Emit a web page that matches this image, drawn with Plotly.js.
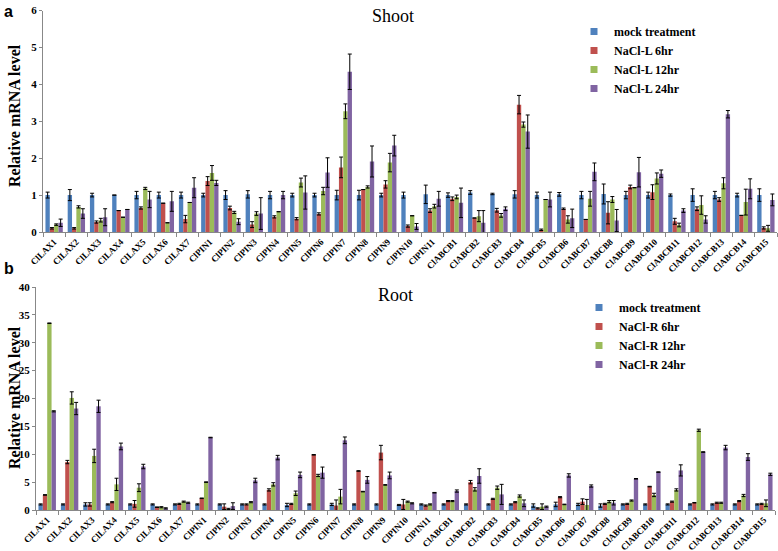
<!DOCTYPE html>
<html>
<head>
<meta charset="utf-8">
<script src="https://cdn.plot.ly/plotly-3.0.1.min.js"></script>
<style>html,body{margin:0;padding:0;background:#fff;}#chart{width:778px;height:551px;}</style>
</head>
<body>
<div id="chart"></div>
<script>
const categories = ["ClLAX1","ClLAX2","ClLAX3","ClLAX4","ClLAX5","ClLAX6","ClLAX7",
  "ClPIN1","ClPIN2","ClPIN3","ClPIN4","ClPIN5","ClPIN6","ClPIN7","ClPIN8","ClPIN9","ClPIN10","ClPIN11",
  "ClABCB1","ClABCB2","ClABCB3","ClABCB4","ClABCB5","ClABCB6","ClABCB7","ClABCB8","ClABCB9","ClABCB10",
  "ClABCB11","ClABCB12","ClABCB13","ClABCB14","ClABCB15"];

const shootNames = ["mock treatment","NaCl-L 6hr","NaCl-L 12hr","NaCl-L 24hr"];
const rootNames = ["mock treatment","NaCl-R 6hr","NaCl-R 12hr","NaCl-R 24hr"];
const colors = ["#4F81BD","#C0504D","#9BBB59","#8064A2"];

const shootMock = [1.0,1.0,1.0,1.0,1.0,1.0,1.0, 1.0,1.0,1.02,1.0,1.0,1.0,1.0,1.0,1.0,1.0,1.02, 1.0,1.07,1.03,1.02,1.0,1.02,1.0,1.03,1.0,1.0,1.0,1.0,1.0,1.0,1.0];
const shootMockErr = [0.08,0.15,0.05,0.0,0.1,0.08,0.08, 0.05,0.12,0.1,0.1,0.05,0.05,0.13,0.13,0.05,0.08,0.25, 0.06,0.05,0.02,0.1,0.08,0.05,0.1,0.27,0.1,0.08,0.03,0.17,0.1,0.05,0.17];
const shoot6 = [0.1,0.1,0.27,0.58,0.65,0.78,0.35, 1.38,0.65,0.2,0.41,0.36,0.49,1.75,1.15,1.29,0.16,0.58, 0.9,0.38,0.59,3.45,0.06,0.63,0.34,0.52,1.22,1.08,0.29,0.63,0.88,0.45,0.11];
const shoot6Err = [0.02,0.02,0.03,0.0,0.03,0.0,0.1, 0.12,0.05,0.08,0.03,0.03,0.03,0.28,0.0,0.1,0.03,0.05, 0.05,0.0,0.05,0.25,0.02,0.02,0.0,0.3,0.05,0.2,0.08,0.05,0.05,0.0,0.03];
const shoot12 = [0.2,0.68,0.32,0.4,1.18,0.25,0.8, 1.6,0.53,0.5,0.55,1.34,1.11,3.27,1.22,1.88,0.44,0.7, 0.95,0.43,0.45,2.91,0.88,0.34,0.9,0.88,1.2,1.45,0.19,0.73,1.32,0.81,0.1];
const shoot12Err = [0.02,0.03,0.05,0.0,0.03,0.0,0.0, 0.2,0.03,0.05,0.0,0.12,0.1,0.2,0.03,0.25,0.0,0.05, 0.05,0.15,0.05,0.07,0.0,0.1,0.2,0.08,0.0,0.15,0.05,0.25,0.15,0.35,0.08];
const shoot24 = [0.25,0.5,0.4,0.61,0.88,0.83,1.2, 1.33,0.28,0.5,1.0,1.07,1.61,4.34,1.91,2.34,0.15,0.9, 0.79,0.25,0.63,2.72,0.88,0.37,1.63,0.31,1.62,1.58,0.58,0.34,3.19,1.17,0.87];
const shoot24Err = [0.1,0.13,0.23,0.0,0.22,0.27,0.27, 0.07,0.08,0.43,0.1,0.45,0.4,0.48,0.42,0.28,0.08,0.2, 0.4,0.33,0.05,0.45,0.2,0.25,0.24,0.3,0.4,0.1,0.05,0.1,0.1,0.27,0.16];

const rootMock = [1,1,1,1,1,1,1, 1,1,1,1,0.9,1,1,1,1,0.9,1, 1,1,1,1,0.8,1,1,0.8,1,1,1,1,1,1,1];
const rootMockErr = [0.1,0.1,0.3,0.1,0.1,0.1,0.1, 0.1,0.1,0.1,0.1,0.3,0.1,0.2,0.1,0.1,0.1,0.1, 0.1,0.1,0.1,0.1,0.3,0.4,0.2,0.3,0.1,0.1,0.1,0.1,0.1,0.1,0.1];
const root6 = [2.7,8.6,1.0,1.4,1.1,0.5,1.1, 2.1,0.6,1.0,3.6,1.1,9.9,0.8,7.0,10.3,1.0,0.8, 1.6,5.0,2.0,1.4,0.3,2.3,1.5,1.1,1.1,4.2,1.5,1.3,1.3,1.6,1.1];
const root6Err = [0.05,0.3,0.3,0.1,0.6,0.05,0.1, 0.05,0.5,0.1,0.2,0.1,0.05,1.0,0.05,1.3,0.9,0.1, 0.1,0.3,0.1,0.1,0.1,0.1,0.5,0.1,0.1,0.05,0.1,0.05,0.1,0.1,0.1];
const root12 = [33.5,20.1,9.7,4.6,4.0,0.5,1.5, 5.0,0.2,1.4,4.6,3.0,6.2,2.4,3.3,4.5,1.5,1.0, 1.6,3.7,4.0,2.5,0.6,1.0,0.9,1.5,1.7,2.7,3.6,14.3,1.3,2.6,1.2];
const root12Err = [0.05,1.1,1.2,1.1,0.7,0.1,0.1, 0.05,0.1,0.1,0.3,0.4,0.2,1.3,0.05,0.05,0.1,0.1, 0.1,0.3,0.3,0.2,0.5,0.05,1.0,0.2,0.1,0.3,0.2,0.2,0.1,0.2,0.6];
const root24 = [17.7,18.2,18.6,11.4,7.8,0.3,1.3, 13.0,0.7,5.3,9.4,6.3,6.7,12.5,5.4,6.2,1.2,3.1, 3.4,6.1,2.8,1.2,0.6,6.2,4.3,1.3,5.6,6.8,7.1,10.4,11.2,9.5,6.4];
const root24Err = [0.1,1.1,1.1,0.6,0.4,0.1,0.1, 0.05,0.6,0.4,0.4,0.5,1.0,0.6,0.6,0.6,0.1,0.05, 0.2,1.3,1.8,0.6,0.1,0.3,0.2,0.4,0.05,0.05,1.0,0.05,0.4,0.6,0.2];

const shootTicks = [0,1,2,3,4,5,6];
const rootTicks = [0,5,10,15,20,25,30,35,40];

const shootVals = [shootMock, shoot6, shoot12, shoot24];
const shootErrs = [shootMockErr, shoot6Err, shoot12Err, shoot24Err];
const rootVals = [rootMock, root6, root12, root24];
const rootErrs = [rootMockErr, root6Err, root12Err, root24Err];

const serif = '"Liberation Serif", "Times New Roman", Times, serif';
const W = 778, H = 551;
const traces = [];

function addBars(vals, errs, xa, ya) {
  for (let i = 0; i < 4; i++) {
    traces.push({
      type: 'bar', x: categories, y: vals[i], xaxis: xa, yaxis: ya,
      marker: {color: colors[i], line: {width: 0}},
      showlegend: false, hoverinfo: 'skip',
      error_y: {type: 'data', array: errs[i], visible: true, color: '#000', thickness: 1, width: 2}
    });
  }
}
addBars(shootVals, shootErrs, 'x', 'y');
addBars(rootVals, rootErrs, 'x2', 'y2');

function addLegend(names, leg) {
  for (let i = 0; i < 4; i++) {
    traces.push({
      type: 'scatter', mode: 'markers', x: [null], y: [null], name: names[i],
      marker: {symbol: 'square', size: 7, color: colors[i]},
      legend: leg, showlegend: true, xaxis: leg === 'legend' ? 'x' : 'x2', yaxis: leg === 'legend' ? 'y' : 'y2'
    });
  }
}
addLegend(shootNames, 'legend');
addLegend(rootNames, 'legend2');

const xBase = {
  type: 'category', showline: true, linecolor: '#888', linewidth: 1,
  ticks: 'outside', tickson: 'boundaries', ticklen: 4, tickcolor: '#888',
  tickangle: -45, tickfont: {family: serif, size: 9, color: '#000', weight: 'bold'},
  showgrid: false, zeroline: false, fixedrange: true
};
const yBase = {
  showline: true, linecolor: '#888', linewidth: 1, ticks: 'outside', ticklen: 3, tickcolor: '#888',
  tickfont: {family: serif, size: 11, color: '#000', weight: 'bold'},
  showgrid: false, zeroline: false, fixedrange: true
};

const legBase = {
  font: {family: serif, size: 12, color: '#000', weight: 'bold'},
  bgcolor: 'rgba(0,0,0,0)', itemwidth: 30, tracegroupgap: 0,
  xanchor: 'left', yanchor: 'top', itemsizing: 'trace'
};

const layout = {
  width: W, height: H,
  font: {family: serif},
  margin: {l: 0, r: 0, t: 0, b: 0},
  paper_bgcolor: '#fff', plot_bgcolor: '#fff',
  barmode: 'group', bargap: 0.22, bargroupgap: 0,
  showlegend: true,
  xaxis: Object.assign({}, xBase, {domain: [43/W, 777/W], anchor: 'y'}),
  yaxis: Object.assign({}, yBase, {domain: [1 - 232/H, 1 - 10.5/H], range: [0, 6], tickvals: shootTicks, anchor: 'x'}),
  xaxis2: Object.assign({}, xBase, {domain: [36/W, 775/W], anchor: 'y2'}),
  yaxis2: Object.assign({}, yBase, {domain: [1 - 510/H, 1 - 287/H], range: [0, 40], tickvals: rootTicks, anchor: 'x2'}),
  legend: Object.assign({}, legBase, {x: 574/W, y: 1 - 17/H}),
  legend2: Object.assign({}, legBase, {x: 579/W, y: 1 - 293/H}),
  annotations: [
    {text: 'Shoot', x: 393/W, y: 1 - 16/H, xref: 'paper', yref: 'paper', xanchor: 'center', yanchor: 'middle', showarrow: false,
     font: {family: serif, size: 18, color: '#000'}},
    {text: 'Root', x: 395/W, y: 1 - 295/H, xref: 'paper', yref: 'paper', xanchor: 'center', yanchor: 'middle', showarrow: false,
     font: {family: serif, size: 18, color: '#000'}},
    {text: 'a', x: 2/W, y: 1 - 1/H, xref: 'paper', yref: 'paper', xanchor: 'left', yanchor: 'top', showarrow: false,
     font: {family: 'Liberation Sans, Arial, sans-serif', size: 16, color: '#000', weight: 'bold'}},
    {text: 'b', x: 2/W, y: 1 - 258/H, xref: 'paper', yref: 'paper', xanchor: 'left', yanchor: 'top', showarrow: false,
     font: {family: 'Liberation Sans, Arial, sans-serif', size: 16, color: '#000', weight: 'bold'}},
    {text: 'Relative mRNA level', x: 14/W, y: 1 - 116/H, xref: 'paper', yref: 'paper', xanchor: 'center', yanchor: 'middle', textangle: -90, showarrow: false,
     font: {family: serif, size: 16, color: '#000', weight: 'bold'}},
    {text: 'Relative mRNA level', x: 14/W, y: 1 - 398/H, xref: 'paper', yref: 'paper', xanchor: 'center', yanchor: 'middle', textangle: -90, showarrow: false,
     font: {family: serif, size: 16, color: '#000', weight: 'bold'}}
  ]
};

Plotly.newPlot('chart', traces, layout, {staticPlot: true, displayModeBar: false});
</script>
</body>
</html>
